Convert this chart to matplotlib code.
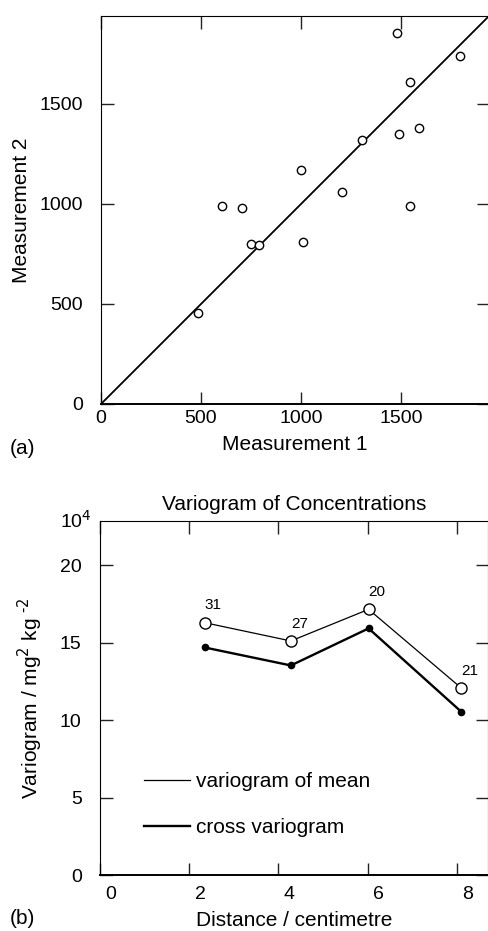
import numpy as np
import matplotlib.pyplot as plt
from matplotlib.lines import Line2D
from matplotlib.transforms import ScaledTranslation

plt.rcParams['font.family'] = ['Liberation Sans', 'DejaVu Sans']

# Panel (a): paired measurements
meas1 = [485, 603, 703, 750, 792, 998, 1010, 1207, 1303, 1482, 1490, 1543, 1545, 1590, 1797]
meas2 = [453, 992, 980, 798, 797, 1168, 808, 1058, 1318, 1853, 1348, 988, 1610, 1382, 1740]

# Panel (b): variograms
distance = [2.35, 4.28, 6.02, 8.10]
vario_mean = [16.28, 15.10, 17.14, 12.05]
cross_vario = [14.68, 13.52, 15.91, 10.52]
pair_counts = ['31', '27', '20', '21']

W, H = 489, 931
fig = plt.figure(figsize=(W / 100, H / 100), dpi=100)

def px_axes(left, top, right, bottom):
    return fig.add_axes([left / W, 1 - bottom / H, (right - left) / W, (bottom - top) / H])

tick_kw = dict(direction='in', length=9, width=1, labelsize=14, color='#222222')

# ---- (a) ----
ax1 = px_axes(101, 16, 489, 404)
ax1.scatter(meas1, meas2, s=36, facecolors='white', edgecolors='black', linewidths=1, zorder=3)
ax1.axline((0, 0), slope=1, color='black', lw=1.3)
ax1.set_xlim(0, 1940)
ax1.set_ylim(0, 1940)
ax1.set_xticks([0, 500, 1000, 1500])
ax1.set_yticks([0, 500, 1000, 1500])
ax1.tick_params(axis='x', top=True, pad=4, **tick_kw)
ax1.tick_params(axis='y', right=True, pad=13, **tick_kw)
ax1.spines['right'].set_visible(False)
ax1.spines['bottom'].set_linewidth(1.4)
ax1.set_xlabel('Measurement 1', fontsize=15, labelpad=6)
ax1.set_ylabel('Measurement 2', fontsize=15, labelpad=6)
fig.text(10 / W, 1 - 448 / H, '(a)', fontsize=15, va='center', ha='left')

# ---- (b) ----
ax2 = px_axes(99.7, 521, 488.3, 875)
ax2.plot(distance, vario_mean, color='black', lw=0.9, marker='o', ms=8,
         mfc='white', mec='black', mew=1, zorder=3)
ax2.plot(distance, cross_vario, color='black', lw=1.7, marker='o', ms=4.5,
         mfc='black', mec='black', zorder=3)
for xv, yv, txt in zip(distance, vario_mean, pair_counts):
    ax2.annotate(txt, (xv, yv), xytext=(6, 7.5), textcoords='offset points',
                 fontsize=11, ha='center', va='bottom')
ax2.set_xlim(0, 8.70)
ax2.set_ylim(0, 22.84)
ax2.set_xticks([0, 2, 4, 6, 8])
ax2.set_yticks([0, 5, 10, 15, 20])
ax2.tick_params(axis='x', top=True, pad=8, **tick_kw)
ax2.tick_params(axis='y', right=True, pad=13, **tick_kw)
ax2.spines['bottom'].set_linewidth(1.4)
shift = ScaledTranslation(11 / 100, 0, fig.dpi_scale_trans)
for lab in ax2.get_xticklabels():
    lab.set_transform(lab.get_transform() + shift)
ax2.set_title('Variogram of Concentrations', fontsize=15, pad=8)
ax2.set_xlabel('Distance / centimetre', fontsize=15, labelpad=6)
ax2.set_ylabel(r'Variogram / mg$^2$ kg $^{\text{-2}}$', fontsize=15, labelpad=11)
ax2.text(-0.02, 1.0, '10$^4$', transform=ax2.transAxes, fontsize=14,
         ha='right', va='center')

handles = [Line2D([], [], color='black', lw=0.9), Line2D([], [], color='black', lw=1.7)]
ax2.legend(handles, ['variogram of mean', 'cross variogram'], loc='upper left',
           bbox_to_anchor=(0.087, 0.32), frameon=False, fontsize=15,
           handlelength=2.2, handletextpad=0.3, labelspacing=1.3, borderpad=0)
fig.text(10 / W, 1 - 919 / H, '(b)', fontsize=15, va='center', ha='left')

fig.savefig('out.png', dpi=100)
